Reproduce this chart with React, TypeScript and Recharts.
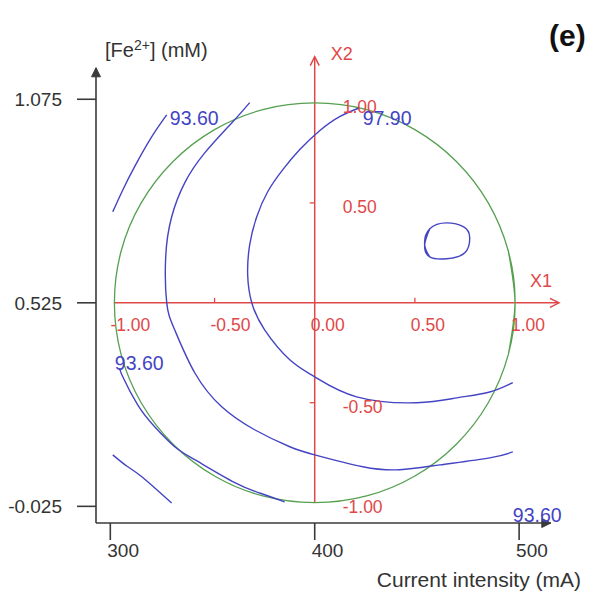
import { ComposedChart, Line, XAxis, YAxis, ReferenceLine, ReferenceDot, Label } from 'recharts';

type Pt = { x: number; y: number };

// axis ticks (real units)
const xTicks = [300, 400, 500];
const yTicks = [-0.025, 0.525, 1.075];

// coded design axes (X1, X2)
const codedXTicks = [-1, -0.5, 0, 0.5, 1];
const codedYTicks = [-1, -0.5, 0.5, 1];
const codedCentre = { x: 400, y: 0.525 };
const codedUnit = { x: 98, y: 0.54 };

// design region (unit circle in coded units)
const designCircle: Pt[] = [
  { x: 494.7, y: 0.385 }, { x: 498, y: 0.525 }, { x: 494.7, y: 0.665 }, { x: 484.9, y: 0.795 },
  { x: 469.3, y: 0.907 }, { x: 449, y: 0.993 }, { x: 425.4, y: 1.047 }, { x: 400, y: 1.065 },
  { x: 374.6, y: 1.047 }, { x: 351, y: 0.993 }, { x: 330.7, y: 0.907 }, { x: 315.1, y: 0.795 },
  { x: 305.3, y: 0.665 }, { x: 302, y: 0.525 }, { x: 305.3, y: 0.385 }, { x: 315.1, y: 0.255 },
  { x: 330.7, y: 0.143 }, { x: 351, y: 0.057 }, { x: 374.6, y: 0.003 }, { x: 400, y: -0.015 },
  { x: 425.4, y: 0.003 }, { x: 449, y: 0.057 }, { x: 469.3, y: 0.143 }, { x: 484.9, y: 0.255 },
  { x: 494.7, y: 0.385 }, { x: 498, y: 0.525 }, { x: 494.7, y: 0.665 },
];

// contour lines
const contourTopLeft: Pt[] = [
  { x: 301.2, y: 0.771 }, { x: 306.1, y: 0.83 }, { x: 311.9, y: 0.893 }, { x: 320.3, y: 0.974 }, { x: 327.6, y: 1.033 },
];

const contourOuter: Pt[] = [
  { x: 368.2, y: 1.066 }, { x: 359.4, y: 1.011 }, { x: 346.2, y: 0.93 }, { x: 336.4, y: 0.849 },
  { x: 330.0, y: 0.757 }, { x: 327.1, y: 0.649 }, { x: 327.6, y: 0.525 }, { x: 331.5, y: 0.452 },
  { x: 341.3, y: 0.336 }, { x: 354.5, y: 0.244 }, { x: 370.6, y: 0.182 }, { x: 387.8, y: 0.136 },
  { x: 400.0, y: 0.114 }, { x: 423.5, y: 0.082 }, { x: 441.6, y: 0.074 }, { x: 461.2, y: 0.087 },
  { x: 485.6, y: 0.106 }, { x: 496.9, y: 0.122 },
];

const contour9790: Pt[] = [
  { x: 422.0, y: 1.052 }, { x: 412.2, y: 1.028 }, { x: 402.4, y: 0.99 }, { x: 392.7, y: 0.939 },
  { x: 384.3, y: 0.884 }, { x: 377.0, y: 0.825 }, { x: 371.6, y: 0.757 }, { x: 368.2, y: 0.682 },
  { x: 367.2, y: 0.601 }, { x: 369.2, y: 0.525 }, { x: 375.5, y: 0.452 }, { x: 387.8, y: 0.371 },
  { x: 400.0, y: 0.325 }, { x: 420.5, y: 0.271 }, { x: 449.9, y: 0.255 }, { x: 469.5, y: 0.268 },
  { x: 485.6, y: 0.284 }, { x: 496.9, y: 0.309 },
];

const contourPeak: Pt[] = [
  { x: 456.3, y: 0.649 }, { x: 453.8, y: 0.682 }, { x: 456.3, y: 0.725 }, { x: 464.6, y: 0.741 },
  { x: 472.9, y: 0.73 }, { x: 475.8, y: 0.703 }, { x: 473.4, y: 0.66 }, { x: 464.6, y: 0.644 },
  { x: 456.3, y: 0.649 }, { x: 453.8, y: 0.682 }, { x: 456.3, y: 0.725 },
];

const contourEdge: Pt[] = [
  { x: 304.6, y: 0.349 }, { x: 306.1, y: 0.325 }, { x: 313.4, y: 0.249 }, { x: 321.7, y: 0.19 },
  { x: 331.5, y: 0.136 }, { x: 341.3, y: 0.101 }, { x: 360.9, y: 0.039 }, { x: 373.1, y: 0.011 },
  { x: 385.3, y: -0.013 },
];

const contourCorner: Pt[] = [
  { x: 301.2, y: 0.114 }, { x: 308.0, y: 0.084 }, { x: 315.4, y: 0.055 }, { x: 330.0, y: -0.016 },
];

const contourLabels = [
  { text: '93.60', x: 329.1, y: 1.006 },
  { text: '97.90', x: 423.5, y: 1.006 },
  { text: '93.60', x: 302.2, y: 0.344 },
  { text: '93.60', x: 496.9, y: -0.067 },
];

const BLACK = '#3a3a3a';
const RED = '#e04848';
const BLUE = '#4444c4';
const GREEN = '#55a050';
const FONT = '"Liberation Sans", Arial, sans-serif';

function arrowShape(color: string, width: number, open: boolean) {
  return (p: any) => {
    const { x1, y1, x2, y2 } = p;
    const len = Math.hypot(x2 - x1, y2 - y1) || 1;
    const ux = (x2 - x1) / len;
    const uy = (y2 - y1) / len;
    const hx = x2 - ux * 9;
    const hy = y2 - uy * 9;
    const nx = -uy * 4.5;
    const ny = ux * 4.5;
    const pts = `${hx + nx},${hy + ny} ${x2},${y2} ${hx - nx},${hy - ny}`;
    return (
      <g>
        <line x1={x1} y1={y1} x2={x2} y2={y2} stroke={color} strokeWidth={width} />
        {open ? (
          <polyline points={pts} fill="none" stroke={color} strokeWidth={width} />
        ) : (
          <polygon points={pts} fill={color} stroke={color} strokeWidth={1} />
        )}
      </g>
    );
  };
}

const cx = (c: number) => codedCentre.x + codedUnit.x * c;
const cy = (c: number) => codedCentre.y + codedUnit.y * c;

export default function App() {
  const contours = [contourTopLeft, contourOuter, contour9790, contourPeak, contourEdge, contourCorner];
  return (
    <div style={{ position: 'absolute', left: 0, top: 0, width: 593, height: 594, background: '#fff', fontFamily: FONT }}>
      <ComposedChart width={593} height={594} margin={{ top: 53, right: 33, bottom: 0, left: 0 }}>
        <XAxis
          type="number"
          dataKey="x"
          domain={[293, 520]}
          ticks={xTicks}
          allowDataOverflow
          axisLine={false}
          tickSize={17}
          tickMargin={4}
          height={71}
          tickLine={{ stroke: BLACK, strokeWidth: 1.6 }}
          tick={(p: any) => (
            <text x={p.x - 3} y={p.y} dy="0.71em" textAnchor="start" fontSize={19} fill="#333">
              {p.payload.value}
            </text>
          )}
        >
          <Label
            content={({ viewBox }: any) => (
              <text x={viewBox.x + viewBox.width + 21} y={viewBox.y + 64} textAnchor="end" fontSize={21} fill="#333">
                Current intensity (mA)
              </text>
            )}
          />
        </XAxis>
        <YAxis
          type="number"
          dataKey="y"
          domain={[-0.07, 1.2]}
          ticks={yTicks}
          allowDataOverflow
          axisLine={false}
          width={96}
          tickSize={19}
          tickMargin={15}
          tickLine={{ stroke: BLACK, strokeWidth: 1.6 }}
          tick={{ fill: '#333', fontSize: 19 }}
          tickFormatter={(v: number) => v.toFixed(3)}
        >
          <Label
            content={({ viewBox }: any) => (
              <text x={viewBox.x + viewBox.width + 9} y={viewBox.y + 4} fontSize={20} fill="#333">
                [Fe
                <tspan dy={-7} fontSize={14}>2+</tspan>
                <tspan dy={7}>] (mM)</tspan>
              </text>
            )}
          />
        </YAxis>

        {/* black frame axes with arrows */}
        <ReferenceLine ifOverflow="visible" segment={[{ x: 293, y: -0.07 }, { x: 293, y: 1.16 }]} shape={arrowShape(BLACK, 1.6, false)} />
        <ReferenceLine ifOverflow="visible" segment={[{ x: 293, y: -0.07 }, { x: 515.5, y: -0.07 }]} shape={arrowShape(BLACK, 1.6, false)} />

        {/* coded red axes */}
        <ReferenceLine ifOverflow="visible" segment={[{ x: cx(-1), y: codedCentre.y }, { x: 519.5, y: codedCentre.y }]} shape={arrowShape(RED, 1.5, true)} />
        <ReferenceLine ifOverflow="visible" segment={[{ x: codedCentre.x, y: cy(-1) }, { x: codedCentre.x, y: 1.19 }]} shape={arrowShape(RED, 1.5, true)} />

        <Line data={designCircle} dataKey="y" type="natural" stroke={GREEN} strokeWidth={1.3} dot={false} activeDot={false} isAnimationActive={false} legendType="none" />
        {contours.map((c, i) => (
          <Line key={i} data={c} dataKey="y" type="natural" stroke={BLUE} strokeWidth={1.4} dot={false} activeDot={false} isAnimationActive={false} legendType="none" />
        ))}

        {codedXTicks.map((c) => (
          <ReferenceDot
            key={`cx${c}`}
            x={cx(c)}
            y={codedCentre.y}
            ifOverflow="visible"
            shape={(p: any) => (
              <g>
                {Math.abs(c) === 0.5 && <line x1={p.cx} y1={p.cy - 5} x2={p.cx} y2={p.cy} stroke={RED} strokeWidth={1.3} />}
                <text x={p.cx - 4} y={p.cy + 28} fontSize={17.5} fill={RED}>{c.toFixed(2)}</text>
              </g>
            )}
          />
        ))}
        {codedYTicks.map((c) => (
          <ReferenceDot
            key={`cy${c}`}
            x={codedCentre.x}
            y={cy(c)}
            ifOverflow="visible"
            shape={(p: any) => (
              <g>
                {Math.abs(c) === 0.5 && <line x1={p.cx - 5} y1={p.cy} x2={p.cx} y2={p.cy} stroke={RED} strokeWidth={1.3} />}
                <text x={p.cx + 28} y={p.cy + 10} fontSize={17.5} fill={RED}>{c.toFixed(2)}</text>
              </g>
            )}
          />
        ))}
        <ReferenceDot
          x={519.5}
          y={codedCentre.y}
          ifOverflow="visible"
          shape={(p: any) => <text x={p.cx - 29} y={p.cy - 16} fontSize={18} fill={RED}>X1</text>}
        />
        <ReferenceDot
          x={codedCentre.x}
          y={1.19}
          ifOverflow="visible"
          shape={(p: any) => <text x={p.cx + 16} y={p.cy + 3} fontSize={18} fill={RED}>X2</text>}
        />

        {contourLabels.map((l, i) => (
          <ReferenceDot
            key={`l${i}`}
            x={l.x}
            y={l.y}
            ifOverflow="visible"
            shape={(p: any) => <text x={p.cx} y={p.cy} fontSize={19.5} fill={BLUE}>{l.text}</text>}
          />
        ))}
      </ComposedChart>
      <div style={{ position: 'absolute', left: 549, top: 19, fontSize: 30, fontWeight: 'bold', fontFamily: FONT, color: '#111', lineHeight: '34px' }}>
        (e)
      </div>
    </div>
  );
}
